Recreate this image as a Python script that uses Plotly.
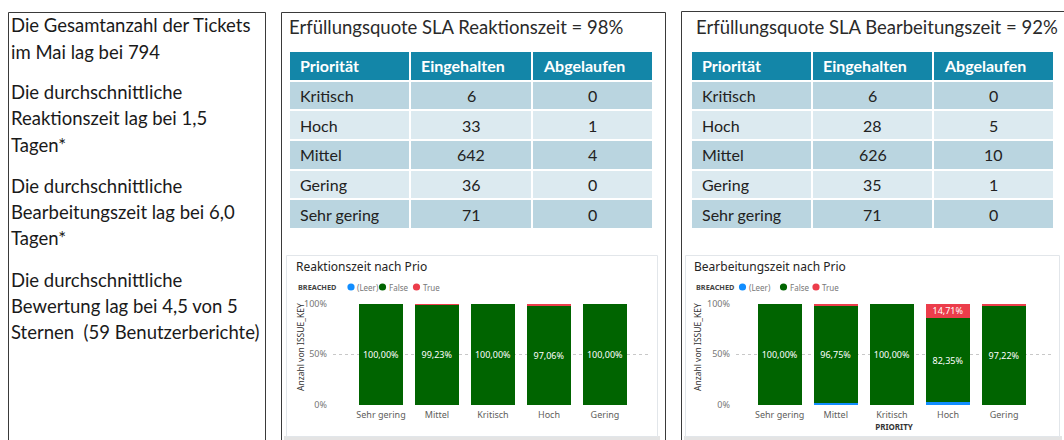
import plotly.graph_objects as go

W, H = 1064, 440

def X(px):
    return px / W

def Y(py):
    return 1 - py / H

# ---------------- data ----------------
left_lines = [
    "Die Gesamtanzahl der Tickets",
    "im Mai lag bei 794",
    "Die durchschnittliche",
    "Reaktionszeit lag bei 1,5",
    "Tagen*",
    "Die durchschnittliche",
    "Bearbeitungszeit lag bei 6,0",
    "Tagen*",
    "Die durchschnittliche",
    "Bewertung lag bei 4,5 von 5",
    "Sternen  (59 Benutzerberichte)",
]

title_reakt = "Erfüllungsquote SLA Reaktionszeit = 98%"
title_bearb = "Erfüllungsquote SLA Bearbeitungszeit = 92%"

table_header = ["Priorität", "Eingehalten", "Abgelaufen"]
table_prio = ["Kritisch", "Hoch", "Mittel", "Gering", "Sehr gering"]
reakt_ok = [6, 33, 642, 36, 71]
reakt_breach = [0, 1, 4, 0, 0]
bearb_ok = [6, 28, 626, 35, 71]
bearb_breach = [0, 5, 10, 1, 0]

categories = ["Sehr gering", "Mittel", "Kritisch", "Hoch", "Gering"]
reakt_leer = [0, 0.15, 0, 0, 0]
reakt_false = [100, 99.23, 100, 97.06, 100]
reakt_true = [0, 0.62, 0, 2.94, 0]
bearb_leer = [0, 1.70, 0, 2.94, 0]
bearb_false = [100, 96.75, 100, 82.35, 97.22]
bearb_true = [0, 1.55, 0, 14.71, 2.78]

chart1_title = "Reaktionszeit nach Prio"
chart2_title = "Bearbeitungszeit nach Prio"
legend_title = "BREACHED"
legend_names = ["(Leer)", "False", "True"]
y_title = "Anzahl von ISSUE_KEY"
x_title = "PRIORITY"

# ---------------- styles ----------------
TXT_FONT = "Lato"
PBI_FONT = "Noto Sans"
C_LEER = "#118DFF"
C_FALSE = "#006400"
C_TRUE = "#EC3D4B"
HEAD = "#1386A8"
ROW_DARK = "#BAD5E0"
ROW_LIGHT = "#DCEAF0"


def lab(v):
    return (f"{v:.2f}%".replace(".", ",")) if v > 5 else ""


fig = go.Figure()
annos = []

# ---------------- tables (heatmap cells on their own axes) ----------------
def add_table(n, x0, x1, ok, breach):
    nrows = len(table_prio) + 1
    z = [[0, 0, 0]] + [[1 + (i % 2)] * 3 for i in range(len(table_prio))]
    fig.add_trace(go.Heatmap(
        z=z, x=[0, 1, 2], y=list(range(nrows)),
        colorscale=[[0, HEAD], [0.5, ROW_DARK], [1, ROW_LIGHT]],
        zmin=0, zmax=2, showscale=False, xgap=2, ygap=2, hoverinfo="skip",
        xaxis=f"x{n}", yaxis=f"y{n}",
    ))
    ax = dict(showgrid=False, zeroline=False, showticklabels=False, ticks="",
              showline=False, fixedrange=True, automargin=False)
    fig.update_layout({
        f"xaxis{n}": dict(ax, domain=[X(x0), X(x1)], range=[-0.5, 2.5], anchor=f"y{n}"),
        f"yaxis{n}": dict(ax, domain=[Y(229), Y(51)], range=[nrows - 0.5, -0.5], anchor=f"x{n}"),
    })
    xr, yr = f"x{n}", f"y{n}"
    for c, h in enumerate(table_header):
        annos.append(dict(xref=xr, yref=yr, x=c - 0.5, y=0, xshift=9, text=f"<b>{h}</b>",
                          showarrow=False, xanchor="left", yanchor="middle",
                          font=dict(family=TXT_FONT, size=16, color="white")))
    for r in range(len(table_prio)):
        annos.append(dict(xref=xr, yref=yr, x=-0.5, y=r + 1, xshift=9, text=table_prio[r],
                          showarrow=False, xanchor="left", yanchor="middle",
                          font=dict(family=TXT_FONT, size=16, color="#222222")))
        for c, vals in ((1, ok), (2, breach)):
            annos.append(dict(xref=xr, yref=yr, x=c, y=r + 1, text=str(vals[r]),
                              showarrow=False, xanchor="center", yanchor="middle",
                              font=dict(family=TXT_FONT, size=16, color="#222222")))

add_table(3, 289, 653, reakt_ok, reakt_breach)
add_table(4, 691, 1054, bearb_ok, bearb_breach)

# ---------------- bars ----------------
def add_bars(xa, ya, leer, false, true):
    for name, vals, col in [(legend_names[0], leer, C_LEER),
                            (legend_names[1], false, C_FALSE),
                            (legend_names[2], true, C_TRUE)]:
        fig.add_trace(go.Bar(
            x=categories, y=vals, name=name, marker_color=col,
            marker_line_width=0, xaxis=xa, yaxis=ya, showlegend=False,
            text=[lab(v) for v in vals], textposition="inside",
            insidetextanchor="middle", textangle=0, constraintext="none",
            textfont=dict(family=PBI_FONT, size=9, color="white"),
        ))

add_bars("x", "y", reakt_leer, reakt_false, reakt_true)
add_bars("x2", "y2", bearb_leer, bearb_false, bearb_true)

yax = dict(
    range=[0, 100], tickvals=[0, 50, 100], ticktext=["0%", "50%", "100%"],
    showgrid=True, gridcolor="#C8C8C8", griddash="dot", gridwidth=1,
    zeroline=False, showline=False, ticks="", ticklabelstandoff=5,
    tickfont=dict(family=PBI_FONT, size=9, color="#777777"),
    domain=[Y(405), Y(303.5)], fixedrange=True, automargin=False,
)
xax = dict(
    type="category", showgrid=False, zeroline=False, showline=False, ticks="",
    tickfont=dict(family=PBI_FONT, size=9, color="#605E5C"),
    ticklabelstandoff=3, fixedrange=True, automargin=False,
)

fig.update_layout(
    template="none",
    width=W, height=H, autosize=False,
    margin=dict(l=0, r=0, t=0, b=0, pad=0),
    paper_bgcolor="white", plot_bgcolor="rgba(0,0,0,0)",
    barmode="stack", bargap=0.214,
    xaxis=dict(xax, domain=[X(333), X(648)], range=[-0.857, 4.768], anchor="y"),
    yaxis=dict(yax, anchor="x"),
    xaxis2=dict(xax, domain=[X(736), X(1052)], range=[-0.779, 4.854], anchor="y2",
                title=dict(text=f"<b>{x_title}</b>", standoff=2,
                           font=dict(family=PBI_FONT, size=8, color="#333333"))),
    yaxis2=dict(yax, anchor="x2"),
    showlegend=False,
)

# ---------------- shapes ----------------
shapes = []
def rect(x0, y0, x1, y1, line="#3A3A3A", fill="rgba(0,0,0,0)", w=1, layer="below"):
    shapes.append(dict(type="rect", xref="paper", yref="paper",
                       x0=X(x0), x1=X(x1), y0=Y(y1), y1=Y(y0),
                       line=dict(color=line, width=w), fillcolor=fill, layer=layer))

# panels
rect(8.5, 12.5, 265.5, 460)
rect(281.5, 12.5, 665.5, 460)
rect(681.5, 11.5, 1080, 460)
# chart cards
rect(284, 436, 660, 460, line="rgba(0,0,0,0)", fill="#E4E4E4")
rect(684, 436, 1062, 460, line="rgba(0,0,0,0)", fill="#E4E4E4")
rect(286.5, 255.5, 657.5, 436.5, line="#E2E6EA", fill="white")
rect(685.5, 255.5, 1059.5, 436.5, line="#E2E6EA", fill="white")

# legend circles
def circle(cx, cy, r, col):
    shapes.append(dict(type="circle", xref="paper", yref="paper",
                       x0=X(cx - r), x1=X(cx + r), y0=Y(cy + r), y1=Y(cy - r),
                       line=dict(width=0), fillcolor=col, layer="above"))

def text(x, y, s, size, color="#1A1A1A", family=TXT_FONT, xanchor="left", angle=0):
    annos.append(dict(xref="paper", yref="paper", x=X(x), y=Y(y), text=s,
                      showarrow=False, xanchor=xanchor, yanchor="middle",
                      textangle=angle,
                      font=dict(family=family, size=size, color=color)))

# left text block
left_y = [25, 52, 92, 118, 145, 186, 212, 238, 280, 306, 332]
for s, yy in zip(left_lines, left_y):
    text(9, yy, s, 18.5)

# titles
text(287, 27, title_reakt, 18.5, color="#2A2A2A")
text(694, 27, title_bearb, 18.5, color="#2A2A2A")

# chart titles / legends / y titles
for (x0, title, yt_x, lx) in [(294, chart1_title, 300, [296, 351, 355, 382.5, 387, 416.5, 421]),
                               (692, chart2_title, 697, [694, 742.5, 746.5, 783.5, 787.5, 816, 820])]:
    text(x0, 266.5, title, 12, color="#252423", family=PBI_FONT)
    text(lx[0], 287, f"<b>{legend_title}</b>", 7.3, color="#444444", family=PBI_FONT)
    cols = [C_LEER, C_FALSE, C_TRUE]
    for i, nm in enumerate(legend_names):
        cx = lx[1 + 2 * i]
        circle(cx, 287, 3.6, cols[i])
        text(lx[2 + 2 * i], 287, nm, 8, color="#777777", family=PBI_FONT)
    text(yt_x, 347, y_title, 8.5, color="#333333", family=PBI_FONT,
         xanchor="center", angle=-90)

fig.update_layout(shapes=shapes, annotations=annos)

fig.write_html("out.html", config={"displayModeBar": False},
               post_script="document.body.style.margin='0';")
